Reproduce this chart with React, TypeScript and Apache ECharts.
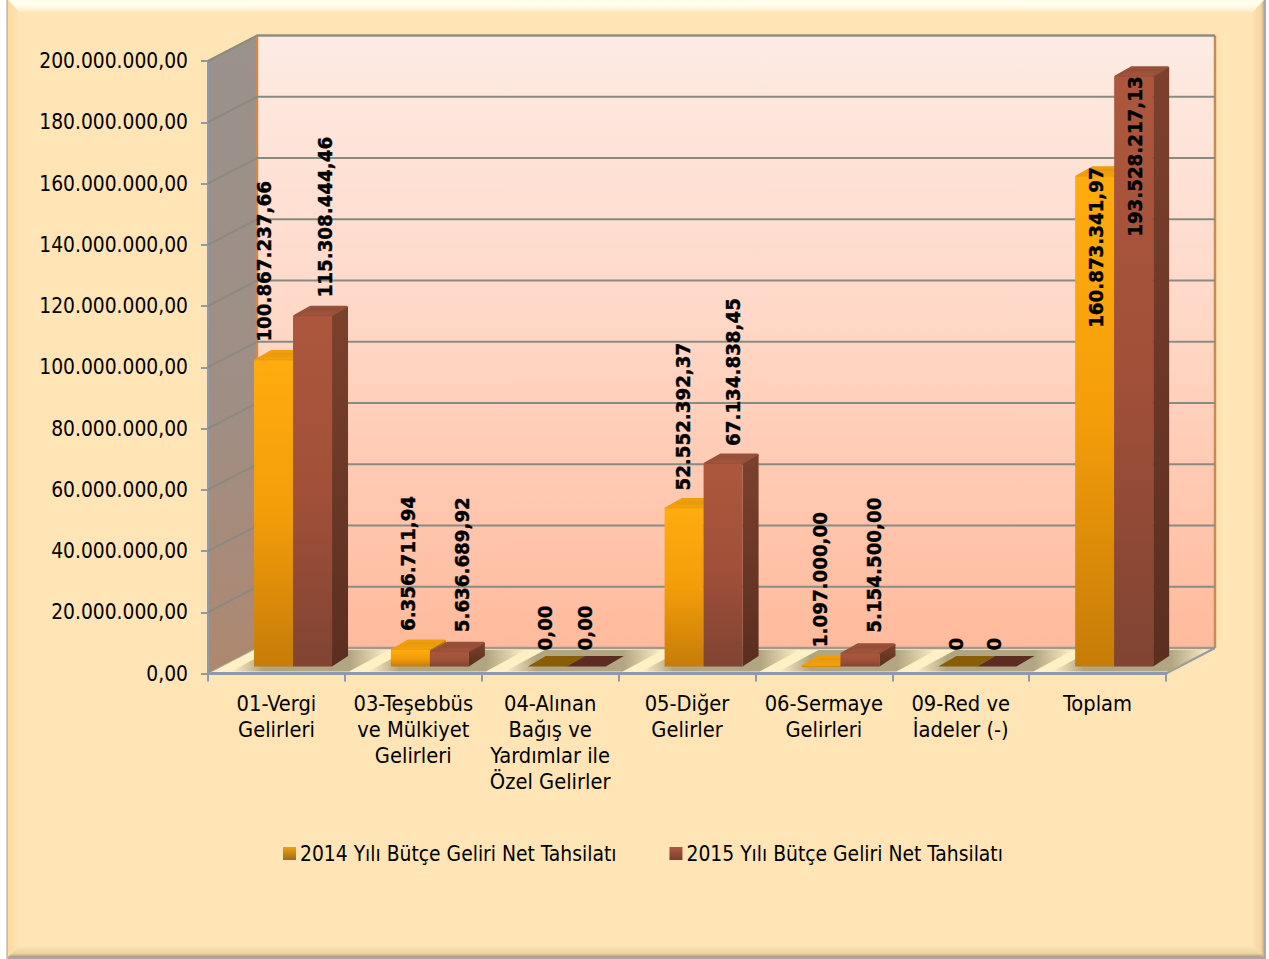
import React, { useEffect, useRef } from "react";
import * as echarts from "echarts";

const categories = [
  "01-Vergi\nGelirleri",
  "03-Teşebbüs\nve Mülkiyet\nGelirleri",
  "04-Alınan\nBağış ve\nYardımlar ile\nÖzel Gelirler",
  "05-Diğer\nGelirler",
  "06-Sermaye\nGelirleri",
  "09-Red ve\nİadeler (-)",
  "Toplam",
];
const name2014 = "2014 Yılı Bütçe Geliri Net Tahsilatı";
const name2015 = "2015 Yılı Bütçe Geliri Net Tahsilatı";
const values2014 = [100867237.66, 6356711.94, 0, 52552392.37, 1097000, 0, 160873341.97];
const values2015 = [115308444.46, 5636689.92, 0, 67134838.45, 5154500, 0, 193528217.13];
const labels2014 = ["100.867.237,66", "6.356.711,94", "0,00", "52.552.392,37", "1.097.000,00", "0", "160.873.341,97"];
const labels2015 = ["115.308.444,46", "5.636.689,92", "0,00", "67.134.838,45", "5.154.500,00", "0", "193.528.217,13"];
const yTicks = [0, 20000000, 40000000, 60000000, 80000000, 100000000, 120000000, 140000000, 160000000, 180000000, 200000000];
const yTickLabels = ["0,00", "20.000.000,00", "40.000.000,00", "60.000.000,00", "80.000.000,00", "100.000.000,00", "120.000.000,00", "140.000.000,00", "160.000.000,00", "180.000.000,00", "200.000.000,00"];

// label placement relative to each bar (manual placement in the original)
const labelDx2014 = [-9.5, -2.4, -2.2, -1.1, -1, -1.8, 1.3];
const labelDx2015 = [12.5, 12.6, -1.2, 9.9, 14, -2.8, 1.3];
const labelDy2014 = [-16, -16, -16, -15, -16, -16, 154];
const labelDy2015 = [-16, -17, -16, -15, -18, -16, 163];

const FONT = "'DejaVu Sans Condensed', 'Noto Sans', sans-serif";
const WALL_DX = 49;
const WALL_DY = -25.5;
const BAR_W = 39;
const BAR_DX = 16;
const BAR_DY = -10.5;
const BAR_FRONT_DY = -7;
const BAR_SHIFT = 16.6;
const BAR_ROUND = 3;

const lg = (stops: [number, string][], horizontal = false) => ({
  type: "linear",
  x: 0,
  y: 0,
  x2: horizontal ? 1 : 0,
  y2: horizontal ? 0 : 1,
  colorStops: stops.map(([offset, color]) => ({ offset, color })),
});

const ORANGE = {
  front: lg([[0, "#FFAC0E"], [0.5, "#F49D0A"], [1, "#C67C08"]]),
  side: lg([[0, "#B87A10"], [1, "#8A5C0C"]]),
  top: lg([[0, "#E2940A"], [1, "#F8A60C"]]),
  edge: "#EE9E0C",
  flat: "#8A5E08",
};
const BROWN = {
  front: lg([[0, "#AC573D"], [0.5, "#A25039"], [1, "#804433"]]),
  side: lg([[0, "#7C412D"], [1, "#5A2E20"]]),
  top: lg([[0, "#8E4A32"], [1, "#A9583F"]]),
  edge: "#97503A",
  flat: "#5C2C22",
};

function barItem(palette: typeof ORANGE, leftShift: number) {
  return (params: any, api: any) => {
    const i = api.value(0);
    const v = api.value(1);
    const c = api.coord([i, 0]);
    const t = api.coord([i, v]);
    const x0 = c[0] + BAR_SHIFT + leftShift;
    const x1 = x0 + BAR_W;
    const yb = c[1] + BAR_FRONT_DY;
    const rawH = c[1] - t[1];
    const yt = rawH === 0 ? yb : Math.min(yb - 0.5, t[1] + BAR_FRONT_DY + BAR_ROUND);
    const h = yb - yt;
    const children: any[] = [];
    if (rawH === 0) {
      children.push({
        type: "polygon",
        shape: { points: [[x0, yt], [x1, yt], [x1 + BAR_DX + 2, yt + BAR_DY], [x0 + BAR_DX + 2, yt + BAR_DY]] },
        style: { fill: palette.flat },
      });
    } else {
      const r = 1.5;
      children.push({
        type: "polygon",
        shape: { points: [[x0 + r, yt], [x1 - r, yt], [x1 + BAR_DX - r, yt + BAR_DY + r], [x0 + BAR_DX + r, yt + BAR_DY + r]] },
        style: { fill: palette.top, stroke: palette.edge, lineWidth: 2 * r, lineJoin: "round" },
      });
      children.push({
        type: "polygon",
        shape: { points: [[x1, yt], [x1 + BAR_DX, yt + BAR_DY + 1], [x1 + BAR_DX, yb + BAR_DY], [x1, yb]] },
        style: { fill: palette.side },
      });
      children.push({
        type: "rect",
        shape: { x: x0, y: yt, width: BAR_W, height: h, r: [1.5, 1.5, 0, 0] },
        style: { fill: palette.front },
      });
    }
    return { type: "group", children };
  };
}

function labelItem(texts: string[], dx: number[], dy: number[], center: number) {
  return (params: any, api: any) => {
    const i = api.value(0);
    const t = api.coord([i, api.value(1)]);
    return {
      type: "text",
      x: t[0] + BAR_SHIFT + center + dx[i],
      y: t[1] + BAR_FRONT_DY + dy[i],
      rotation: Math.PI / 2,
      style: {
        text: texts[i],
        fill: "#000",
        stroke: "#000",
        lineWidth: 0.4,
        font: `bold 20.3px ${FONT}`,
        align: "left",
        verticalAlign: "middle",
      },
    };
  };
}

function gridlineItem(params: any, api: any) {
  const y = api.coord([0, api.value(0)])[1];
  const cs = params.coordSys;
  return {
    type: "polyline",
    shape: {
      points: [[cs.x, y], [cs.x + WALL_DX, y + WALL_DY], [cs.x + cs.width + WALL_DX, y + WALL_DY]],
    },
    style: { fill: "none", stroke: "#8C8A80", lineWidth: 2 },
  };
}

function shadowItem(params: any, api: any) {
  const c = api.coord([api.value(0), 0]);
  const cx = c[0] + BAR_SHIFT;
  const yF = c[1] - 2;
  const yB = c[1] + WALL_DY + 2;
  const slant = 40;
  return {
    type: "polygon",
    shape: {
      points: [[cx - 62, yF], [cx + 56, yF], [cx + 56 + slant, yB], [cx - 62 + slant, yB]],
    },
    style: {
      fill: lg([[0, "rgba(178,165,130,0)"], [0.2, "rgba(178,165,130,1)"], [0.75, "rgba(178,165,130,1)"], [1, "rgba(178,165,130,0)"]], true),
    },
  };
}

const GL = 208;
const GT = 61;
const GW = 958;
const GH = 612.5;
const GB = GT + GH;
const GR = GL + GW;

const panelGraphics: any[] = [
  { type: "rect", z: -10, shape: { x: 6, y: 0, width: 1260, height: 959 }, style: { fill: lg([[0, "#DADADA"], [0.002, "#A8A8A8"], [1, "#A8A8A8"]], true) } },
  { type: "rect", z: -9, shape: { x: 8, y: 0, width: 1256, height: 957 }, style: { fill: "#FFE4B5" } },
  { type: "polygon", z: -8, shape: { points: [[8, 0], [1264, 0], [1253, 12], [19, 12]] }, style: { fill: lg([[0, "#FFFCE8"], [0.35, "#FFFFF4"], [1, "#FFE9C4"]]) } },
  { type: "polygon", z: -8, shape: { points: [[8, 0], [19, 12], [19, 946], [8, 957]] }, style: { fill: lg([[0, "#FFD99C"], [1, "#FFE4B5"]], true) } },
  { type: "polygon", z: -8, shape: { points: [[1264, 0], [1253, 12], [1253, 946], [1264, 957]] }, style: { fill: lg([[0, "#FFE0AE"], [0.75, "#F6D4A0"], [1, "#C4AC86"]], true) } },
  { type: "polygon", z: -8, shape: { points: [[8, 957], [19, 946], [1253, 946], [1264, 957]] }, style: { fill: lg([[0, "#FFE4B5"], [0.7, "#EBD1A2"], [1, "#A89678"]]) } },
  // left side wall
  { type: "polygon", z: -5, shape: { points: [[GL, GT], [GL + WALL_DX, GT + WALL_DY], [GL + WALL_DX, GB + WALL_DY], [GL, GB]] }, style: { fill: lg([[0, "#9A928D"], [0.6, "#A08E84"], [1, "#AE8870"]]) } },
  // back wall
  { type: "rect", z: -5, shape: { x: GL + WALL_DX, y: GT + WALL_DY, width: GW, height: GH }, style: { fill: lg([[0, "#FDEBE3"], [0.5, "#FFD6C4"], [1, "#FFBA9C"]]) } },
  // floor
  { type: "polygon", z: -5, shape: { points: [[GL, GB], [GL + WALL_DX, GB + WALL_DY], [GR + WALL_DX, GB + WALL_DY], [GR, GB]] }, style: { fill: "#FFF0C6" } },
  // frame
  { type: "line", z: -3, shape: { x1: GL + WALL_DX, y1: GT + WALL_DY, x2: GR + WALL_DX, y2: GT + WALL_DY }, style: { stroke: "#A8998A", lineWidth: 2 } },
  { type: "line", z: -3, shape: { x1: GL + WALL_DX, y1: GT + WALL_DY, x2: GL + WALL_DX, y2: GB + WALL_DY }, style: { stroke: "#CB8B50", lineWidth: 2.5 } },
  { type: "line", z: -3, shape: { x1: GR + WALL_DX, y1: GT + WALL_DY, x2: GR + WALL_DX, y2: GB + WALL_DY }, style: { stroke: "#CB8B50", lineWidth: 2.5 } },
  { type: "line", z: -3, shape: { x1: GL + WALL_DX, y1: GB + WALL_DY, x2: GR + WALL_DX, y2: GB + WALL_DY }, style: { stroke: "#A09A8E", lineWidth: 2.5 } },
  { type: "line", z: -3, shape: { x1: GL, y1: GT, x2: GL + WALL_DX, y2: GT + WALL_DY }, style: { stroke: "#A8998A", lineWidth: 1.5 } },
  { type: "line", z: -3, shape: { x1: GR, y1: GB, x2: GR + WALL_DX, y2: GB + WALL_DY }, style: { stroke: "#8E9AA8", lineWidth: 2 } },
  { type: "line", z: -3, shape: { x1: GL, y1: GB, x2: GL + WALL_DX, y2: GB + WALL_DY }, style: { stroke: "#B0A898", lineWidth: 1 } },
];

export default function App() {
  const ref = useRef<HTMLDivElement>(null);
  useEffect(() => {
    if (!ref.current) return;
    const chart = echarts.init(ref.current, undefined, { renderer: "svg" });
    const catData = (vals: number[]) => vals.map((v, i) => [i, v]);
    chart.setOption({
      animation: false,
      backgroundColor: "#FFFFFF",
      textStyle: { fontFamily: FONT },
      graphic: { elements: panelGraphics },
      grid: { left: GL, top: GT, width: GW, height: GH, containLabel: false },
      legend: {
        left: 278,
        top: 838,
        itemWidth: 13,
        itemHeight: 13,
        itemGap: 53,
        icon: "rect",
        selectedMode: false,
        textStyle: { fontSize: 20.85, color: "#000", fontFamily: FONT, padding: [2, 0, 0, -1] },
        data: [
          { name: name2014, itemStyle: { color: lg([[0, "#F0A010"], [1, "#A06C10"]]) } },
          { name: name2015, itemStyle: { color: lg([[0, "#B0583E"], [1, "#7A3E2C"]]) } },
        ],
      },
      xAxis: {
        type: "category",
        data: categories,
        boundaryGap: true,
        axisLine: { show: true, lineStyle: { color: "#8E9AA8", width: 3 } },
        axisTick: { show: true, length: 8, lineStyle: { color: "#8E9AA8", width: 2 } },
        axisLabel: { interval: 0, margin: 17, fontSize: 21.7, lineHeight: 26, color: "#000", fontFamily: FONT, verticalAlign: "top" },
        splitLine: { show: false },
      },
      yAxis: {
        type: "value",
        min: 0,
        max: 200000000,
        interval: 20000000,
        axisLine: { show: true, lineStyle: { color: "#8E9AA8", width: 2 } },
        axisTick: { show: true, length: 7, lineStyle: { color: "#8E9AA8", width: 2 } },
        axisLabel: {
          margin: 20,
          fontSize: 20.8,
          color: "#000",
          fontFamily: FONT,
          padding: [2, 0, 0, 0],
          formatter: (v: number) => yTickLabels[yTicks.indexOf(v)],
        },
        splitLine: { show: false },
      },
      series: [
        { type: "custom", name: "gridlines", silent: true, z: 1, coordinateSystem: "cartesian2d", data: yTicks.slice(1).map((v) => [v]), encode: { y: 0 }, renderItem: gridlineItem },
        { type: "custom", name: "shadow", silent: true, z: 1, data: catData(values2014), encode: { x: 0, y: 1 }, renderItem: shadowItem },
        { type: "custom", name: name2014, silent: true, z: 3, data: catData(values2014), encode: { x: 0, y: 1 }, renderItem: barItem(ORANGE, -BAR_W), itemStyle: { color: "#F0A010" } },
        { type: "custom", name: name2015, silent: true, z: 4, data: catData(values2015), encode: { x: 0, y: 1 }, renderItem: barItem(BROWN, 0), itemStyle: { color: "#A0503A" } },
        { type: "custom", name: "labels 2014", silent: true, z: 6, data: catData(values2014), encode: { x: 0, y: 1 }, renderItem: labelItem(labels2014, labelDx2014, labelDy2014, -BAR_W / 2) },
        { type: "custom", name: "labels 2015", silent: true, z: 6, data: catData(values2015), encode: { x: 0, y: 1 }, renderItem: labelItem(labels2015, labelDx2015, labelDy2015, BAR_W / 2) },
      ],
    });
    return () => chart.dispose();
  }, []);
  return <div ref={ref} style={{ position: "absolute", left: 0, top: 0, width: 1269, height: 959 }} />;
}
